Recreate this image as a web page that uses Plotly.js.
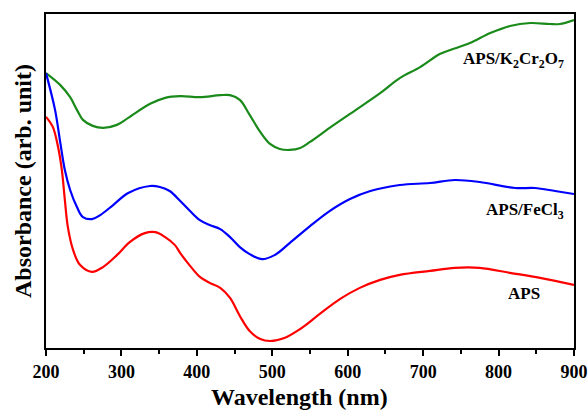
<!DOCTYPE html>
<html>
<head>
<meta charset="utf-8">
<script src="https://cdn.plot.ly/plotly-3.0.1.min.js"></script>
<style>html,body{margin:0;padding:0;background:#fff;}#chart{width:588px;height:411px;}</style>
</head>
<body>
<div id="chart"></div>
<script>
// Wavelength (nm) and absorbance (arb. unit, normalized)
const wlGreen = [200,219,232,241,249,262,276,294,309,338,358,378,404,431,444,457,470,484,497,510,523,537,550,576,603,643,669,696,722,736,762,789,815,842,868,881,900];
const absGreen = [0.823,0.787,0.751,0.713,0.683,0.665,0.659,0.668,0.689,0.731,0.749,0.754,0.751,0.757,0.757,0.743,0.698,0.647,0.611,0.596,0.593,0.599,0.617,0.659,0.701,0.763,0.808,0.841,0.880,0.892,0.913,0.943,0.964,0.973,0.970,0.970,0.982];

const wlBlue = [200,212,219,225,232,241,249,261,272,289,309,338,351,364,378,391,404,417,431,444,457,470,486,503,523,550,576,603,630,669,709,742,775,822,848,875,900];
const absBlue = [0.823,0.713,0.614,0.533,0.473,0.422,0.392,0.386,0.398,0.428,0.464,0.485,0.482,0.470,0.440,0.410,0.383,0.368,0.356,0.332,0.302,0.281,0.266,0.278,0.314,0.365,0.410,0.446,0.470,0.488,0.494,0.503,0.497,0.479,0.479,0.470,0.461];

const wlRed = [200,209,216,221,225,229,236,245,261,276,294,311,331,345,358,371,378,391,404,417,431,444,457,470,484,497,516,537,563,590,616,643,669,709,742,775,815,855,900];
const absRed = [0.692,0.662,0.602,0.533,0.443,0.362,0.293,0.249,0.228,0.243,0.278,0.317,0.344,0.347,0.332,0.308,0.284,0.246,0.213,0.195,0.180,0.150,0.096,0.051,0.027,0.021,0.030,0.057,0.102,0.147,0.180,0.204,0.219,0.231,0.240,0.240,0.225,0.210,0.189];

const xTicks = [200,300,400,500,600,700,800,900];

const serif = 'Liberation Serif, Times New Roman, serif';

const traces = [
  {x: wlGreen, y: absGreen, name: 'APS/K2Cr2O7', line: {color: '#1a8a1a', width: 2.2, shape: 'spline', smoothing: 1.0}},
  {x: wlBlue, y: absBlue, name: 'APS/FeCl3', line: {color: '#0000ff', width: 2.2, shape: 'spline', smoothing: 1.0}},
  {x: wlRed, y: absRed, name: 'APS', line: {color: '#ff0000', width: 2.2, shape: 'spline', smoothing: 1.0}}
].map(t => Object.assign({type: 'scatter', mode: 'lines', hoverinfo: 'skip'}, t));

const layout = {
  width: 588, height: 411,
  margin: {l: 46, r: 14, t: 14, b: 63},
  paper_bgcolor: '#fff', plot_bgcolor: '#fff',
  showlegend: false,
  font: {family: serif, color: '#000'},
  xaxis: {
    range: [200, 900],
    tickvals: xTicks,
    ticktext: xTicks.map(String),
    ticks: 'outside', ticklen: 6, tickwidth: 2, tickcolor: '#000',
    minor: {dtick: 50, ticks: 'outside', ticklen: 4, tickwidth: 2, tickcolor: '#000'},
    showgrid: false, zeroline: false,
    showline: true, linecolor: '#000', linewidth: 2, mirror: true,
    tickfont: {family: serif, size: 18, weight: 'bold', color: '#000'}
  },
  yaxis: {
    range: [0, 1],
    showticklabels: false, ticks: '',
    showgrid: false, zeroline: false,
    showline: true, linecolor: '#000', linewidth: 2, mirror: true,
    title: {text: 'Absorbance (arb. unit)', font: {family: serif, size: 24, weight: 'bold', color: '#000'}, standoff: 6}
  },
  annotations: [
    {xref: 'paper', yref: 'paper', x: 0.481, y: -0.148, xanchor: 'center', yanchor: 'middle', showarrow: false, borderpad: 0,
     text: 'Wavelength (nm)', font: {family: serif, size: 24, weight: 'bold', color: '#000'}},
    {xref: 'paper', yref: 'paper', x: 0.985, y: 0.863, xanchor: 'right', yanchor: 'middle', showarrow: false,
     text: 'APS/K<sub>2</sub>Cr<sub>2</sub>O<sub>7</sub>', font: {family: serif, size: 17, weight: 'bold', color: '#000'}},
    {xref: 'paper', yref: 'paper', x: 0.985, y: 0.41, xanchor: 'right', yanchor: 'middle', showarrow: false,
     text: 'APS/FeCl<sub>3</sub>', font: {family: serif, size: 17, weight: 'bold', color: '#000'}},
    {xref: 'paper', yref: 'paper', x: 0.94, y: 0.162, xanchor: 'right', yanchor: 'middle', showarrow: false,
     text: 'APS', font: {family: serif, size: 17, weight: 'bold', color: '#000'}}
  ]
};

Plotly.newPlot('chart', traces, layout, {staticPlot: true, displayModeBar: false});
</script>
</body>
</html>
